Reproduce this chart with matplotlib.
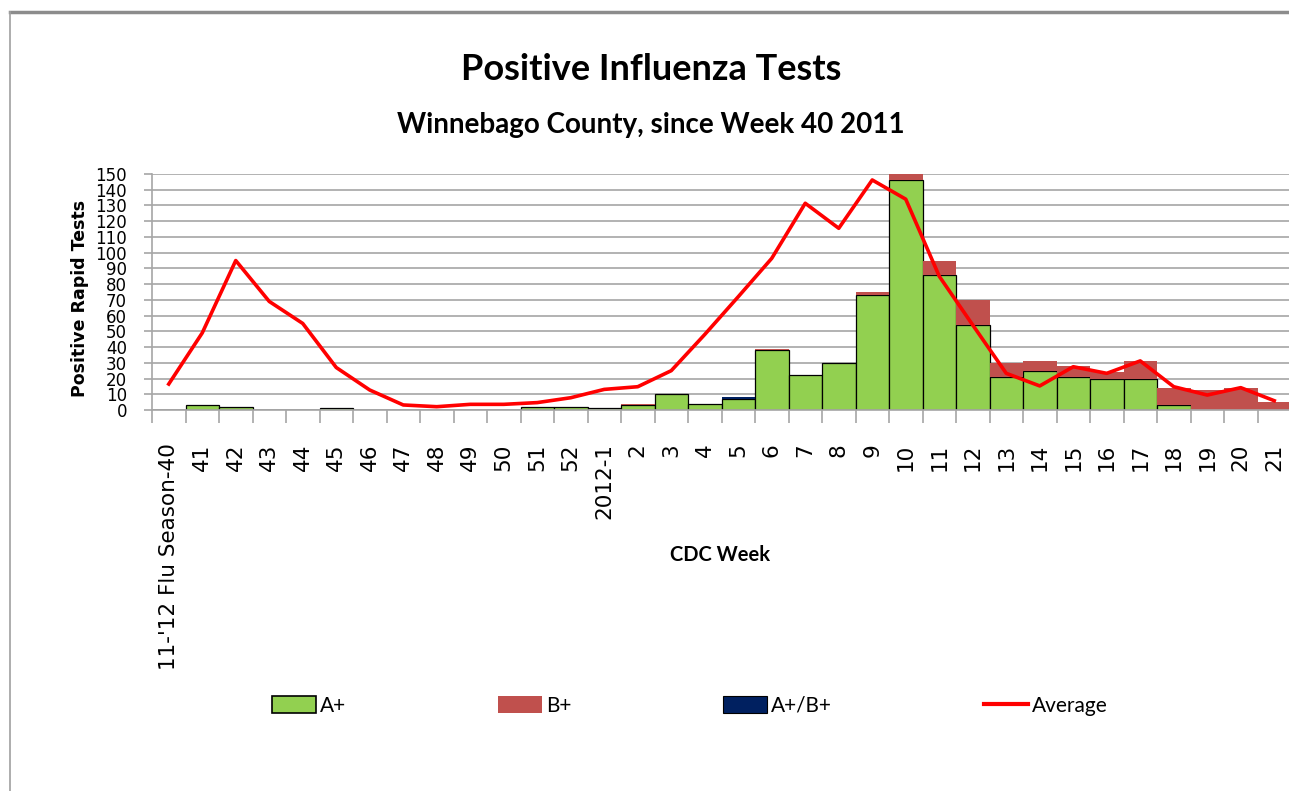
import numpy as np
import matplotlib
matplotlib.use("Agg")
import matplotlib.pyplot as plt
from matplotlib.patches import Patch
from matplotlib.lines import Line2D

weeks = ["11-'12 Flu Season-40", "41", "42", "43", "44", "45", "46", "47", "48",
         "49", "50", "51", "52", "2012-1", "2", "3", "4", "5", "6", "7", "8",
         "9", "10", "11", "12", "13", "14", "15", "16", "17", "18", "19", "20", "21"]
a_pos = [0, 3, 2, 0, 0, 1, 0, 0, 0, 0, 0, 2, 2, 1, 3, 10, 4, 7, 38, 22, 30,
         73, 146, 86, 54, 21, 25, 21, 20, 20, 3, 0, 0, 0]
b_pos = [0, 0, 0, 0, 0, 0, 0, 0, 0, 0, 0, 0, 0, 0, 1, 0, 0, 0, 1, 0, 0,
         2, 5, 9, 16, 9, 6, 7, 4, 11, 11, 13, 14, 5]
ab_pos = [0, 0, 0, 0, 0, 0, 0, 0, 0, 0, 0, 0, 0, 0, 0, 0, 0, 1, 0, 0, 0,
          0, 0, 0, 0, 0, 0, 0, 0, 0, 0, 0, 0, 0]
average = [16.5, 49, 95, 69, 55, 27, 12.7, 3.2, 2.1, 3.6, 3.6, 4.7, 7.8, 13.1,
           14.8, 25, 48, 72, 96.4, 131.4, 115.5, 146.2, 134, 85, 54, 23.3,
           15.3, 27.5, 23.3, 31.2, 14.8, 9.5, 14.2, 5.9]

green = "#92D050"
red_b = "#C0504D"
navy = "#002060"
grid_c = "#A6A6A6"
calib = ["Lato", "DejaVu Sans"]

W, H = 1289, 791
fig = plt.figure(figsize=(W / 100, H / 100), dpi=100)

# chart frame (cut off at right and bottom)
fig.add_artist(Line2D([10 / W, 1], [1 - 12 / H, 1 - 12 / H], color="#8C8C8C", lw=2.5,
                      transform=fig.transFigure))
fig.add_artist(Line2D([10 / W, 10 / W], [1 - 12 / H, 0], color="#A0A0A0", lw=1.2,
                      transform=fig.transFigure))

ax = fig.add_axes([152 / W, 1 - 410 / H, 1139 / W, 236 / H])
x = np.arange(len(weeks))
a = np.array(a_pos)
b = np.array(b_pos)
ab = np.array(ab_pos)

ax.bar(x, a, width=1.0, color=green, edgecolor="black", linewidth=0.9, zorder=2)
ax.bar(x, b, width=1.0, bottom=a, color=red_b, edgecolor="none", zorder=2)
ax.bar(x, ab, width=1.0, bottom=a + b, color=navy, edgecolor="none", zorder=2)
ax.plot(x, average, color="#FF0000", lw=2.6, zorder=3)

ax.set_xlim(-0.5, len(weeks) - 0.5)
ax.set_ylim(0, 150)
ax.set_yticks(np.arange(0, 151, 10))
ax.set_yticklabels([str(v) for v in range(0, 151, 10)], fontsize=12)
ax.yaxis.grid(True, color=grid_c, lw=1.2, zorder=0)
ax.set_axisbelow(True)

ax.set_xticks(x)
ax.set_xticklabels(weeks, rotation=90, fontsize=15.5, va="top")
ax.set_xticks(np.arange(-0.5, len(weeks), 1), minor=True)
ax.tick_params(axis="x", which="major", length=0, pad=24)
ax.tick_params(axis="x", which="minor", length=9, color=grid_c, width=1.2)
ax.tick_params(axis="y", length=6, color=grid_c, width=1.2, pad=12)

for side in ["top", "right"]:
    ax.spines[side].set_visible(False)
ax.spines["left"].set_color(grid_c)
ax.spines["bottom"].set_color(grid_c)
ax.spines["left"].set_linewidth(1.2)
ax.spines["bottom"].set_linewidth(1.2)

fig.text(80 / W, 1 - 298 / H, "Positive Rapid Tests", rotation=90, fontsize=12.5,
         fontweight="bold", ha="center", va="center")
fig.text(720 / W, 1 - 555 / H, "CDC Week", family=calib, fontsize=14.5,
         fontweight="bold", ha="center", va="center")
fig.text(651 / W, 1 - 70 / H, "Positive Influenza Tests", family=calib, fontsize=26,
         fontweight="bold", ha="center", va="center")
fig.text(651 / W, 1 - 125 / H, "Winnebago County, since Week 40 2011", family=calib,
         fontsize=20, fontweight="bold", ha="center", va="center")

handles = [Patch(facecolor=green, edgecolor="black", lw=1.2),
           Patch(facecolor=red_b, edgecolor="none"),
           Patch(facecolor=navy, edgecolor="black", lw=0.8),
           Line2D([], [], color="#FF0000", lw=3)]
fig.legend(handles, ["A+", "B+", "A+/B+", "Average"], loc="center",
           bbox_to_anchor=(690 / W, 1 - 706 / H), ncol=4, frameon=False,
           prop={"family": calib, "size": 15}, handlelength=2.1,
           handleheight=0.9, handletextpad=0.2, columnspacing=7.3)

fig.savefig("out.png", dpi=100)
